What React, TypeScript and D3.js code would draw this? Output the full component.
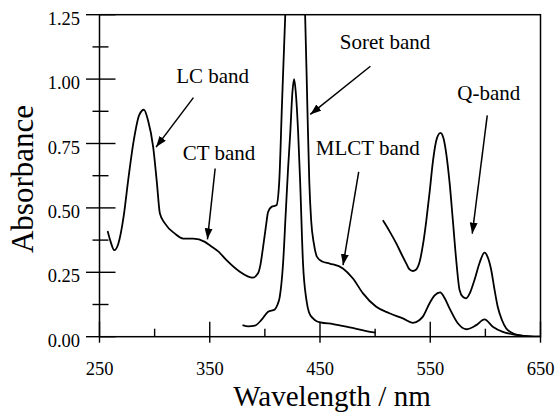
import React from "react";
import * as d3 from "d3";

const W = 557;
const H = 412;

// Main spectrum (complex), wavelength nm / absorbance
const mainWl = [257.4, 260, 263.4, 267, 272, 276, 281, 286, 290.3, 294, 298.7, 302, 304.8, 309.3, 318.4, 325.9, 335, 345.6, 350, 358, 365.2, 377.3, 384, 388.8, 393.8, 396, 398.4, 401, 402.9, 406, 410.5, 413, 415.5, 418.5, 420, 435, 436.5, 438.5, 440.3, 442, 444.5, 447.3, 452, 458.8, 470.8, 479.9, 489, 501, 513, 525.2, 534.2, 540.3, 543.3, 549.4, 554, 559, 563, 567.5, 575, 582.6, 591.7, 599.2, 606.7, 615.8, 628, 640, 650];
const mainAbs = [0.41, 0.37, 0.336, 0.36, 0.47, 0.607, 0.76, 0.86, 0.881, 0.84, 0.736, 0.6, 0.478, 0.44, 0.40, 0.381, 0.381, 0.368, 0.355, 0.33, 0.297, 0.252, 0.235, 0.229, 0.246, 0.28, 0.349, 0.43, 0.484, 0.504, 0.51, 0.6, 0.9, 1.25, 1.4, 1.4, 1.25, 0.9, 0.6, 0.45, 0.36, 0.31, 0.292, 0.284, 0.265, 0.226, 0.168, 0.116, 0.091, 0.071, 0.054, 0.065, 0.078, 0.13, 0.16, 0.172, 0.15, 0.11, 0.052, 0.029, 0.045, 0.067, 0.039, 0.019, 0.007, 0.001, 0];

// Scaled Soret band spectrum
const soretWl = [379.7, 385, 390.9, 396.9, 402.9, 409, 411.5, 413.5, 416.5, 418.9, 421, 423, 425, 426.5, 428, 430.2, 432, 434.6, 437.7, 440, 443.7, 447, 450.3, 461.8, 477, 492, 500.5];
const soretAbs = [0.045, 0.04, 0.043, 0.065, 0.097, 0.106, 0.125, 0.155, 0.284, 0.478, 0.65, 0.79, 0.95, 1.0, 0.95, 0.79, 0.6, 0.284, 0.142, 0.095, 0.071, 0.06, 0.056, 0.049, 0.036, 0.022, 0.016];

// Scaled Q-band spectrum
const qWl = [507, 513, 519.2, 524, 528.3, 531, 534.2, 537, 540.3, 543.5, 546.4, 549.4, 552.4, 556, 559.3, 562, 564.5, 567.5, 570.5, 573.5, 576.6, 579.5, 582.6, 586, 590.1, 595, 599.2, 602, 605.3, 608, 611.2, 615, 618.8, 624, 630, 640, 650];
const qAbs = [0.452, 0.41, 0.362, 0.32, 0.284, 0.262, 0.255, 0.26, 0.29, 0.36, 0.45, 0.56, 0.68, 0.77, 0.791, 0.77, 0.711, 0.6, 0.452, 0.3, 0.181, 0.155, 0.149, 0.17, 0.22, 0.29, 0.326, 0.31, 0.259, 0.19, 0.116, 0.065, 0.033, 0.015, 0.006, 0.001, 0];

const xMajor = [250, 350, 450, 550, 650];
const xMinor = [300, 400, 500, 600];
const yMajor = [0, 0.25, 0.5, 0.75, 1.0, 1.25];
const yMinor = [0.125, 0.375, 0.625, 0.875, 1.125];

// Annotations: label, label position (nm, abs), arrow from, arrow to
const annLabels = ["LC band", "CT band", "Soret band", "MLCT band", "Q-band"];
const annLabelPos = [[352.6, 0.983], [358.4, 0.685], [509, 1.118], [493.4, 0.704], [603.1, 0.917]];
const annFrom = [[335.2, 0.928], [354.9, 0.653], [495.7, 1.05], [485.1, 0.64], [601.7, 0.859]];
const annTo = [[301.3, 0.736], [347.9, 0.378], [441.2, 0.863], [470.9, 0.278], [588.1, 0.40]];

const FONT = '"Liberation Serif"';

export default function App() {
  const x = d3.scaleLinear().domain([250, 650]).range([99.5, 540.5]);
  const y = d3.scaleLinear().domain([0, 1.25]).range([336.7, 14.7]);

  const line = d3
    .line<[number, number]>()
    .x((d) => x(d[0]))
    .y((d) => y(d[1]))
    .curve(d3.curveMonotoneX);

  const zip = (a: number[], b: number[]) => a.map((v, i) => [v, b[i]] as [number, number]);

  const x0 = x(250);
  const x1 = x(650);
  const yb = y(0);
  const yt = y(1.25);
  const ts = { fontFamily: FONT };

  return (
    <svg
      width={W}
      height={H}
      style={{ position: "absolute", left: 0, top: 0, background: "#fff" }}
    >
      <defs>
        <clipPath id="plotclip">
          <rect x={x0} y={yt} width={x1 - x0} height={yb - yt} />
        </clipPath>
        <marker
          id="arrowhead"
          markerUnits="userSpaceOnUse"
          markerWidth={12}
          markerHeight={8}
          refX={11}
          refY={4}
          orient="auto"
        >
          <path d="M0,0 L11,4 L0,8 Z" fill="#000" />
        </marker>
      </defs>

      {/* frame */}
      <rect x={x0} y={yt} width={x1 - x0} height={yb - yt} fill="none" stroke="#000" strokeWidth={1.5} />

      {/* y ticks */}
      {yMajor.map((v) => (
        <g key={"ym" + v}>
          <line x1={x0 - 13.5} x2={x0 + 16} y1={y(v)} y2={y(v)} stroke="#000" strokeWidth={1.4} />
          <text x={80} y={y(v) + 10} textAnchor="end" fontSize={18.5} style={ts}>
            {d3.format(".2f")(v)}
          </text>
        </g>
      ))}
      {yMinor.map((v) => (
        <line key={"yn" + v} x1={x0 - 7} x2={x0 + 9} y1={y(v)} y2={y(v)} stroke="#000" strokeWidth={1.4} />
      ))}

      {/* x ticks */}
      {xMajor.map((v) => (
        <g key={"xm" + v}>
          <line x1={x(v)} x2={x(v)} y1={yb - 15} y2={yb + 6} stroke="#000" strokeWidth={1.4} />
          <text x={x(v)} y={374.5} textAnchor="middle" fontSize={18.5} style={ts}>
            {v}
          </text>
        </g>
      ))}
      {xMinor.map((v) => (
        <line key={"xn" + v} x1={x(v)} x2={x(v)} y1={yb - 8} y2={yb} stroke="#000" strokeWidth={1.4} />
      ))}

      {/* curves */}
      <g clipPath="url(#plotclip)" fill="none" stroke="#000" strokeWidth={1.8} strokeLinejoin="round">
        <path d={line(zip(mainWl, mainAbs)) || ""} />
        <path d={line(zip(soretWl, soretAbs)) || ""} />
        <path d={line(zip(qWl, qAbs)) || ""} />
      </g>

      {/* annotations */}
      {annLabels.map((t, i) => (
        <g key={t}>
          <text x={x(annLabelPos[i][0])} y={y(annLabelPos[i][1])} textAnchor="middle" fontSize={21} style={ts}>
            {t}
          </text>
          <line
            x1={x(annFrom[i][0])}
            y1={y(annFrom[i][1])}
            x2={x(annTo[i][0])}
            y2={y(annTo[i][1])}
            stroke="#000"
            strokeWidth={1.5}
            markerEnd="url(#arrowhead)"
          />
        </g>
      ))}

      {/* axis titles */}
      <text x={332} y={405.5} textAnchor="middle" fontSize={29} style={ts}>
        Wavelength / nm
      </text>
      <text transform={`translate(32.5,179) rotate(-90)`} textAnchor="middle" fontSize={31} style={ts}>
        Absorbance
      </text>
    </svg>
  );
}
